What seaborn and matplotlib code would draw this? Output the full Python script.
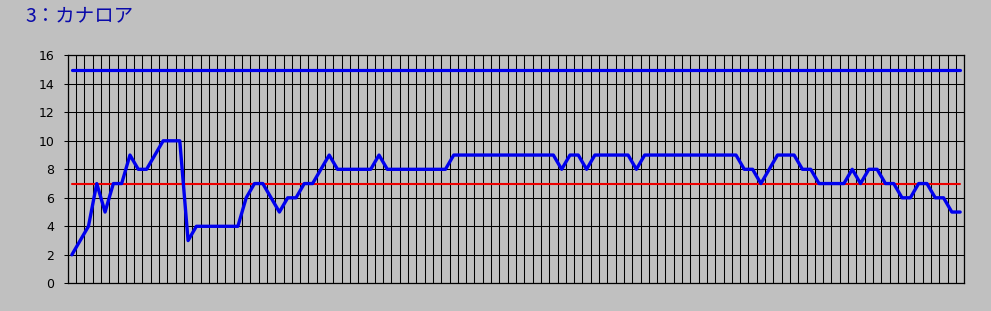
import matplotlib
matplotlib.use("Agg")
import matplotlib.pyplot as plt
import seaborn as sns
import pandas as pd
import numpy as np

# ---- data ----
title_text = "3：カナロア"
values = [2, 3, 4, 7, 5, 7, 7, 9, 8, 8,
          9, 10, 10, 10, 3, 4, 4, 4, 4, 4,
          4, 6, 7, 7, 6, 5, 6, 6, 7, 7,
          8, 9, 8, 8, 8, 8, 8, 9, 8, 8,
          8, 8, 8, 8, 8, 8, 9, 9, 9, 9,
          9, 9, 9, 9, 9, 9, 9, 9, 9, 8,
          9, 9, 8, 9, 9, 9, 9, 9, 8, 9,
          9, 9, 9, 9, 9, 9, 9, 9, 9, 9,
          9, 8, 8, 7, 8, 9, 9, 9, 8, 8,
          7, 7, 7, 7, 8, 7, 8, 8, 7, 7,
          6, 6, 7, 7, 6, 6, 5, 5]
categories = list(range(len(values)))
upper_level = 15
lower_level = 7
y_ticks = [0, 2, 4, 6, 8, 10, 12, 14, 16]

df = pd.DataFrame({
    "x": categories,
    "value": values,
    "upper": [upper_level] * len(categories),
    "lower": [lower_level] * len(categories),
})

BG = "#C0C0C0"
sns.set_style("white", {"axes.facecolor": BG, "figure.facecolor": BG,
                        "axes.edgecolor": "black"})
plt.rcParams["font.family"] = ["DejaVu Sans", "Noto Sans CJK JP"]

fig = plt.figure(figsize=(9.91, 3.11), dpi=100, facecolor=BG)
ax = fig.add_axes([67.7 / 991, 1 - 283.3 / 311, (964.3 - 67.7) / 991, (283.3 - 55.3) / 311])
ax.set_facecolor(BG)

sns.lineplot(data=df, x="x", y="upper", ax=ax, color="#0000EE", linewidth=2.3, zorder=3)
sns.lineplot(data=df, x="x", y="lower", ax=ax, color="#EE0000", linewidth=1.5, zorder=3)
sns.lineplot(data=df, x="x", y="value", ax=ax, color="#0000EE", linewidth=2.4, zorder=4)

n = len(categories)
ax.set_xlim(-0.5, n - 0.5)
ax.set_ylim(0, 16)
ax.set_xticks(np.arange(-0.5, n, 1.0), minor=True)
ax.set_xticks([])
ax.set_yticks(y_ticks)
ax.set_yticklabels([str(t) for t in y_ticks], fontsize=9, color="black")
for lbl in ax.get_yticklabels():
    lbl.set_va("center_baseline")
ax.tick_params(axis="y", which="major", direction="out", length=3.2, width=0.75,
               color="black", pad=6.5, left=True)
ax.tick_params(axis="x", which="both", length=0, bottom=False)
ax.grid(True, axis="x", which="minor", color="black", linewidth=0.75, zorder=1)
ax.grid(True, axis="y", which="major", color="black", linewidth=0.75, zorder=1)
ax.set_axisbelow(True)
for s in ax.spines.values():
    s.set_visible(True)
    s.set_color("black")
    s.set_linewidth(0.9)
ax.set_xlabel("")
ax.set_ylabel("")

fig.text(25 / 991, 1 - 21.7 / 311, title_text, color="#0A0AAA", fontsize=14,
         family=["Noto Sans CJK JP", "DejaVu Sans"], ha="left", va="baseline")

fig.savefig("out.png", dpi=100, facecolor=BG)
